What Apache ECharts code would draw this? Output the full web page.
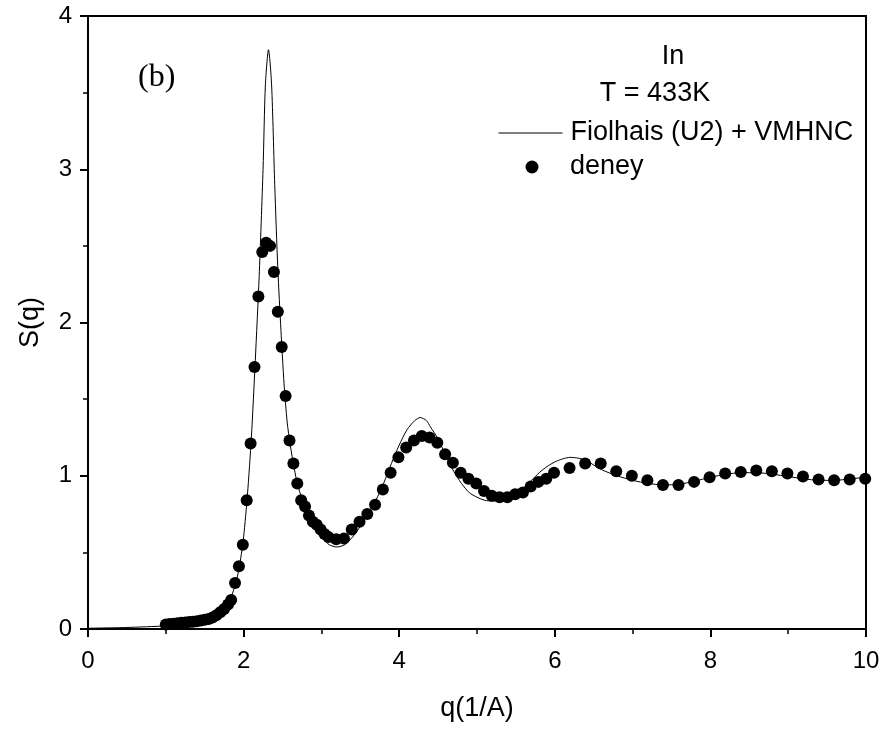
<!DOCTYPE html>
<html>
<head>
<meta charset="utf-8">
<script src="https://cdn.jsdelivr.net/npm/echarts@6/dist/echarts.min.js"></script>
<style>
  html, body { margin: 0; padding: 0; background: #fff; }
  #chart { width: 884px; height: 729px; }
</style>
</head>
<body>
<div id="chart"></div>
<script>
// Structure factor S(q) of liquid In at 433 K

// Experimental points (deney)
const expQ = [1.00, 1.05, 1.10, 1.15, 1.20, 1.25, 1.30, 1.35, 1.40, 1.45, 1.50, 1.55, 1.60, 1.65, 1.70, 1.75, 1.80, 1.84, 1.89, 1.94,
  1.99, 2.04, 2.09, 2.14, 2.19, 2.24, 2.29, 2.34, 2.39, 2.44, 2.49, 2.54, 2.59, 2.64, 2.69, 2.74, 2.79, 2.84, 2.89, 2.94,
  2.99, 3.04, 3.09, 3.19, 3.29, 3.39, 3.49, 3.59, 3.69, 3.79, 3.89, 3.99, 4.09, 4.19, 4.29, 4.39, 4.49, 4.59, 4.69, 4.79,
  4.89, 4.99, 5.09, 5.19, 5.29, 5.39, 5.49, 5.59, 5.69, 5.79, 5.89, 5.99, 6.19, 6.39, 6.59, 6.79, 6.99, 7.19, 7.39, 7.59,
  7.79, 7.99, 8.19, 8.39, 8.59, 8.79, 8.99, 9.19, 9.39, 9.59, 9.79, 9.99];
const expS = [0.030, 0.032, 0.035, 0.037, 0.040, 0.042, 0.045, 0.048, 0.050, 0.055, 0.060, 0.065, 0.075, 0.090, 0.110, 0.130, 0.160, 0.190, 0.300, 0.410,
  0.55, 0.84, 1.21, 1.71, 2.17, 2.46, 2.52, 2.50, 2.33, 2.07, 1.84, 1.52, 1.23, 1.08, 0.95, 0.84, 0.80, 0.74, 0.70, 0.68,
  0.65, 0.62, 0.60, 0.585, 0.59, 0.65, 0.70, 0.75, 0.81, 0.91, 1.02, 1.12, 1.185, 1.23, 1.26, 1.25, 1.215, 1.14, 1.085, 1.02,
  0.98, 0.95, 0.90, 0.87, 0.86, 0.86, 0.88, 0.89, 0.93, 0.96, 0.98, 1.02, 1.05, 1.08, 1.08, 1.03, 1.00, 0.97, 0.94, 0.94,
  0.96, 0.99, 1.015, 1.025, 1.035, 1.03, 1.015, 0.995, 0.975, 0.97, 0.975, 0.98];

// Calculated curve: Fiolhais (U2) + VMHNC
const calcQ = [0.0, 0.5, 1.0, 1.3, 1.5, 1.6, 1.7, 1.8, 1.9, 1.95, 2.0, 2.05, 2.1, 2.15, 2.2, 2.25, 2.28, 2.32, 2.36, 2.40,
  2.44, 2.48, 2.52, 2.56, 2.6, 2.65, 2.7, 2.8, 2.9, 3.0, 3.1, 3.2, 3.3, 3.4, 3.5, 3.6, 3.7, 3.8, 3.9, 4.0,
  4.1, 4.2, 4.27, 4.35, 4.4, 4.5, 4.6, 4.7, 4.8, 4.9, 5.0, 5.1, 5.2, 5.3, 5.4, 5.5, 5.6, 5.7, 5.8, 5.9,
  6.0, 6.1, 6.2, 6.3, 6.4, 6.6, 6.8, 7.0, 7.2, 7.4, 7.6, 7.8, 8.0, 8.2, 8.4, 8.6, 8.8, 9.0, 9.2, 9.4,
  9.6, 9.8, 10.0];
const calcS = [0.005, 0.010, 0.020, 0.030, 0.050, 0.070, 0.100, 0.160, 0.300, 0.420, 0.60, 0.88, 1.25, 1.75, 2.30, 3.00, 3.55, 3.78, 3.55, 2.90,
  2.35, 1.95, 1.60, 1.35, 1.20, 1.05, 0.93, 0.78, 0.67, 0.60, 0.55, 0.535, 0.55, 0.60, 0.67, 0.75, 0.84, 0.95, 1.08, 1.20,
  1.30, 1.36, 1.38, 1.36, 1.32, 1.24, 1.13, 1.03, 0.95, 0.89, 0.86, 0.84, 0.835, 0.84, 0.855, 0.88, 0.92, 0.97, 1.02, 1.06,
  1.09, 1.11, 1.12, 1.115, 1.10, 1.04, 1.00, 0.97, 0.95, 0.94, 0.945, 0.965, 0.99, 1.01, 1.02, 1.02, 1.01, 0.995, 0.98, 0.97,
  0.97, 0.98, 0.99];

// Axis ticks
const xTicks = [0, 2, 4, 6, 8, 10];
const yTicks = [0, 1, 2, 3, 4];

const calcName = 'Fiolhais (U2) + VMHNC';
const expName = 'deney';

const FONT = '"Liberation Sans", Arial, sans-serif';
const chart = echarts.init(document.getElementById('chart'), null, { renderer: 'canvas' });

const axisCommon = {
  type: 'value',
  axisLine: { show: true, lineStyle: { color: '#000', width: 2 } },
  axisTick: { show: true, inside: false, length: 8, lineStyle: { color: '#000', width: 2 } },
  minorTick: { show: true, splitNumber: 2, length: 5, lineStyle: { color: '#000', width: 1.5 } },
  splitLine: { show: false },
  axisLabel: { color: '#000', fontFamily: FONT, fontSize: 24 },
  nameTextStyle: { color: '#000', fontFamily: FONT, fontSize: 27 }
};

const legendText = { color: '#000', fontFamily: FONT, fontSize: 27, lineHeight: 30 };

chart.setOption({
  animation: false,
  backgroundColor: '#fff',
  grid: {
    left: 88, right: 18, top: 16, bottom: 100,
    show: true, borderColor: '#000', borderWidth: 2, backgroundColor: 'transparent'
  },
  xAxis: Object.assign({}, axisCommon, {
    min: xTicks[0], max: xTicks[xTicks.length - 1], interval: xTicks[1] - xTicks[0],
    name: 'q(1/A)', nameLocation: 'middle', nameGap: 66,
    axisLabel: Object.assign({}, axisCommon.axisLabel, { margin: 20 })
  }),
  yAxis: Object.assign({}, axisCommon, {
    min: yTicks[0], max: yTicks[yTicks.length - 1], interval: yTicks[1] - yTicks[0],
    name: 'S(q)', nameLocation: 'middle', nameGap: 44, nameRotate: 90,
    axisLabel: Object.assign({}, axisCommon.axisLabel, { margin: 16 })
  }),
  legend: [
    {
      data: [calcName], orient: 'vertical', left: 493, top: 113,
      itemWidth: 64, itemHeight: 12, itemGap: 0,
      itemStyle: { color: 'rgba(0,0,0,0)', borderWidth: 0 },
      lineStyle: { color: '#000', width: 1 },
      textStyle: Object.assign({}, legendText, { padding: [0, 0, 0, 3] })
    },
    {
      data: [expName], orient: 'vertical', left: 520.5, top: 147,
      itemWidth: 13, itemHeight: 13, itemGap: 0,
      textStyle: Object.assign({}, legendText, { padding: [0, 0, 0, 26.5] })
    }
  ],
  graphic: [
    { type: 'text', left: 138, top: 62, style: { text: '(b)', fontFamily: '"Liberation Serif", "Times New Roman", serif', fontSize: 32, fill: '#000' } },
    { type: 'text', x: 673, y: 57, style: { text: 'In', fontFamily: FONT, fontSize: 27, fill: '#000', textAlign: 'center', textVerticalAlign: 'middle' } },
    { type: 'text', x: 655, y: 94, style: { text: 'T = 433K', fontFamily: FONT, fontSize: 27, fill: '#000', textAlign: 'center', textVerticalAlign: 'middle' } }
  ],
  series: [
    {
      name: calcName, type: 'line',
      data: calcQ.map((q, i) => [q, calcS[i]]),
      symbol: 'none', showSymbol: false, smooth: 0.25,
      lineStyle: { color: '#000', width: 1 },
      itemStyle: { color: '#000' },
      z: 2
    },
    {
      name: expName, type: 'scatter',
      data: expQ.map((q, i) => [q, expS[i]]),
      symbol: 'circle', symbolSize: 12,
      itemStyle: { color: '#000', opacity: 1 },
      z: 3
    }
  ]
});
</script>
</body>
</html>
